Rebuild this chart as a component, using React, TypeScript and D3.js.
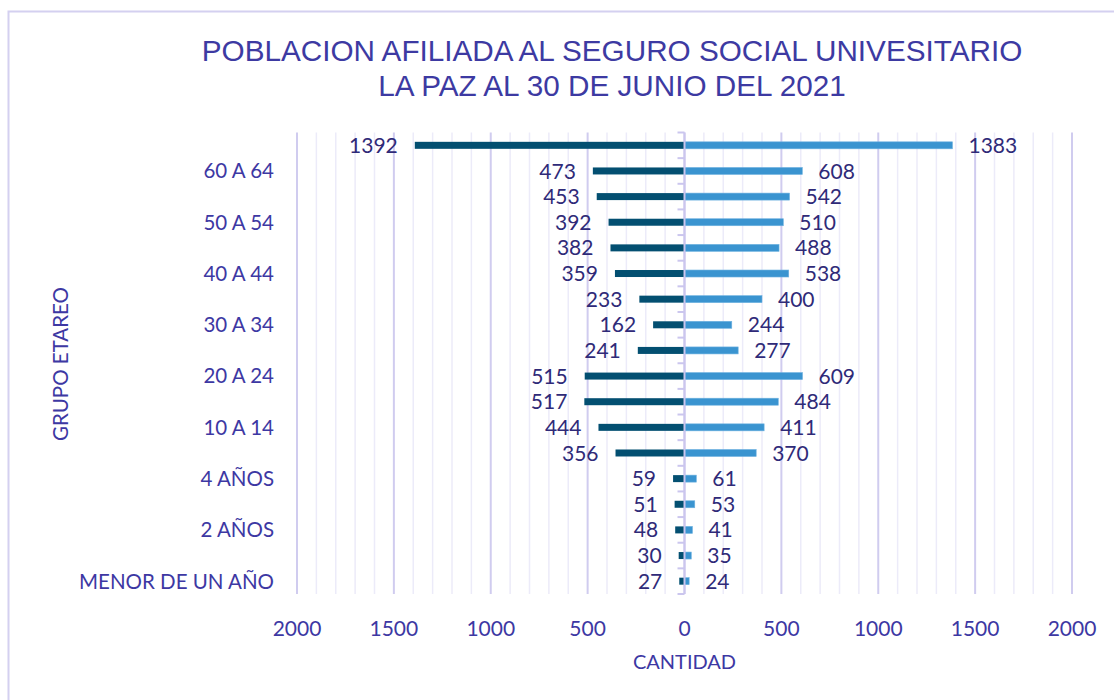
import React from 'react';
import * as d3 from 'd3';

// age groups, top to bottom
const categories = [
  '65 Y MAS', '60 A 64', '55 A 59', '50 A 54', '45 A 49', '40 A 44',
  '35 A 39', '30 A 34', '25 A 29', '20 A 24', '15 A 19', '10 A 14',
  '5 A 9', '4 AÑOS', '3 AÑOS', '2 AÑOS', '1 AÑO', 'MENOR DE UN AÑO',
];
// left side (dark)
const leftValues = [1392, 473, 453, 392, 382, 359, 233, 162, 241, 515, 517, 444, 356, 59, 51, 48, 30, 27];
// right side (light)
const rightValues = [1383, 608, 542, 510, 488, 538, 400, 244, 277, 609, 484, 411, 370, 61, 53, 41, 35, 24];
const tickValues = [-2000, -1500, -1000, -500, 0, 500, 1000, 1500, 2000];

const W = 1114;
const H = 700;
const margin = { top: 132.5, right: 42, bottom: 106, left: 297 };

const labelFont = 'Lato, "Noto Sans", sans-serif';
const axisColor = '#3d38a3';
const valueColor = '#2f2a78';

const App = () => {
  const x = d3
    .scaleLinear()
    .domain([-2000, 2000])
    .range([margin.left, W - margin.right]);

  const y = d3
    .scaleBand()
    .domain(categories)
    .range([margin.top, H - margin.bottom]);

  const barH = 7;
  const minor = d3.range(-2000, 2001, 100);

  return (
    <svg width={W} height={H} style={{ position: 'absolute', left: 0, top: 0, background: '#fff' }}>
      {/* chart border */}
      <rect x={8.5} y={11.5} width={1120} height={700} fill="none" stroke="#d4d0f0" strokeWidth={2} />

      {/* title */}
      <text x={612} y={61} textAnchor="middle" fontFamily='"Liberation Sans", Arial, sans-serif' fontSize={29.7} fill="#3d3aa2">
        POBLACION AFILIADA AL SEGURO SOCIAL UNIVESITARIO
      </text>
      <text x={612} y={96} textAnchor="middle" fontFamily='"Liberation Sans", Arial, sans-serif' fontSize={29.7} fill="#3d3aa2">
        LA PAZ AL 30 DE JUNIO DEL 2021
      </text>

      {/* gridlines */}
      {minor.map((v) => (
        <line
          key={v}
          x1={x(v)}
          x2={x(v)}
          y1={margin.top}
          y2={H - margin.bottom}
          stroke={v % 500 === 0 ? '#d0ccef' : '#ecebf9'}
          strokeWidth={v % 500 === 0 ? 2 : 1.5}
        />
      ))}

      {/* bars */}
      {categories.map((c, i) => {
        const cy = (y(c) as number) + y.bandwidth() / 2;
        return (
          <g key={c}>
            <rect x={x(-leftValues[i])} y={cy - barH / 2} width={x(0) - x(-leftValues[i])} height={barH} fill="#034f71" />
            <rect x={x(0)} y={cy - barH / 2} width={x(rightValues[i]) - x(0)} height={barH} fill="#3a94d0" stroke="#6fb2e0" strokeWidth={0.6} />
            <text x={x(-leftValues[i]) - 17} y={cy} dy="0.36em" textAnchor="end" fontFamily={labelFont} fontSize={21} fill={valueColor}>
              {leftValues[i]}
            </text>
            <text x={x(rightValues[i]) + 16} y={cy} dy="0.36em" textAnchor="start" fontFamily={labelFont} fontSize={21} fill={valueColor}>
              {rightValues[i]}
            </text>
            {(categories.length - 1 - i) % 2 === 0 && (
              <text x={274} y={cy} dy="0.36em" textAnchor="end" fontFamily={labelFont} fontSize={20.5} fill={axisColor}>
                {c}
              </text>
            )}
          </g>
        );
      })}

      {/* center axis with ticks */}
      <line x1={x(0)} x2={x(0)} y1={margin.top} y2={H - margin.bottom} stroke="#cbc6ee" strokeWidth={2} />
      {categories.map((c) => (
        <line key={'t' + c} x1={x(0) - 7} x2={x(0)} y1={y(c)} y2={y(c)} stroke="#cbc6ee" strokeWidth={2} />
      ))}
      <line x1={x(0) - 7} x2={x(0)} y1={H - margin.bottom} y2={H - margin.bottom} stroke="#cbc6ee" strokeWidth={2} />

      {/* x tick labels */}
      {tickValues.map((v) => (
        <text key={v} x={x(v)} y={628} dy="0.36em" textAnchor="middle" fontFamily={labelFont} fontSize={21} fill={axisColor}>
          {Math.abs(v)}
        </text>
      ))}

      {/* axis titles */}
      <text x={x(0)} y={662} dy="0.36em" textAnchor="middle" fontFamily={labelFont} fontSize={20} fill={axisColor}>
        CANTIDAD
      </text>
      <text
        transform={`translate(61, ${364}) rotate(-90)`}
        dy="0.36em"
        textAnchor="middle"
        fontFamily={labelFont}
        fontSize={20.5}
        fill={axisColor}
      >
        GRUPO ETAREO
      </text>
    </svg>
  );
};

export default App;
